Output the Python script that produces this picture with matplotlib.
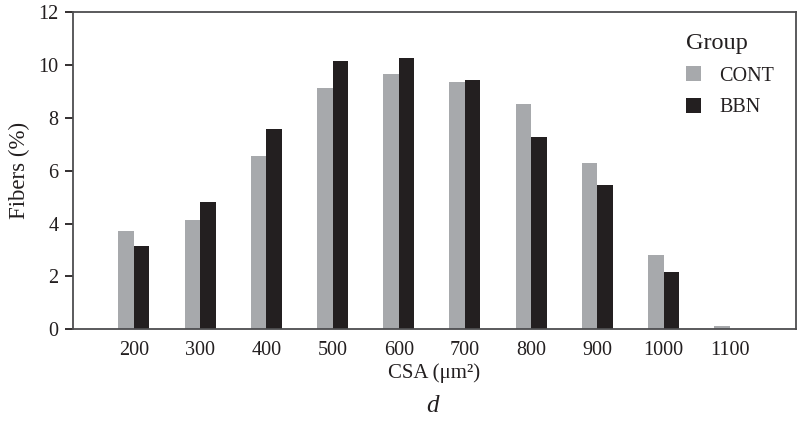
import numpy as np
import matplotlib
matplotlib.use('Agg')
import matplotlib.pyplot as plt
from matplotlib.patches import Patch

plt.rcParams['font.family'] = ['Liberation Serif', 'DejaVu Serif']

# data
csa_bins = ['200', '300', '400', '500', '600', '700', '800', '900', '1000', '1100']
cont = [3.73, 4.13, 6.57, 9.13, 9.66, 9.35, 8.52, 6.29, 2.81, 0.13]
bbn = [3.15, 4.81, 7.58, 10.15, 10.26, 9.43, 7.27, 5.46, 2.17, 0.0]

col_cont = '#a7a9ac'
col_bbn = '#231f20'

fig = plt.figure(figsize=(7.99, 4.33), dpi=100)
ax = fig.add_axes([0.0914, 0.2395, 0.9048, 0.7328])

x = np.arange(len(csa_bins))
w = 0.234
ax.bar(x - w / 2, cont, width=w, color=col_cont, linewidth=0)
ax.bar(x + w / 2, bbn, width=w, color=col_bbn, linewidth=0)

ax.set_xlim(-0.92, 10.0)
ax.set_ylim(0, 12)
ax.set_yticks(np.arange(0, 13, 2))
ax.set_xticks(x)
ax.set_xticklabels(csa_bins)

for s in ax.spines.values():
    s.set_color('#4d4d4f')
    s.set_linewidth(1.3)

ax.tick_params(axis='y', length=5.5, width=1.3, color='#231f20', pad=5,
               labelsize=14.5, labelcolor='#231f20')
ax.tick_params(axis='x', length=0, pad=8.5, labelsize=14.5, labelcolor='#231f20')

ax.set_ylabel('Fibers (%)', fontsize=16.5, color='#231f20', labelpad=6)
ax.set_xlabel('CSA (μm²)', fontsize=15, color='#231f20', labelpad=2)

handles = [Patch(facecolor=col_cont, label='CONT'),
           Patch(facecolor=col_bbn, label='BBN')]
leg = ax.legend(handles=handles, title='Group', loc='upper right',
                bbox_to_anchor=(0.995, 0.99), frameon=False, fontsize=14.5,
                title_fontsize=17.5, handlelength=0.75, handleheight=0.75,
                handletextpad=0.9, labelspacing=0.6, alignment='left')
for t in leg.get_texts():
    t.set_color('#231f20')
leg.get_title().set_color('#231f20')

fig.text(0.541, 0.063, 'd', fontsize=18, style='italic', color='#231f20',
         ha='center', va='center')

fig.savefig('out.png', dpi=100)
